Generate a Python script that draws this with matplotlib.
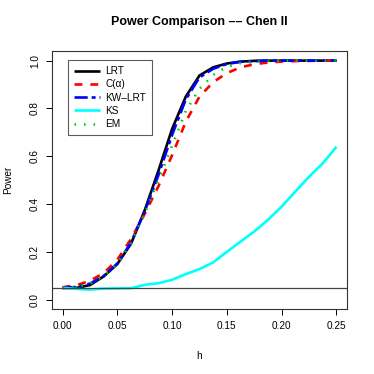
import matplotlib
matplotlib.use("Agg")
import matplotlib.pyplot as plt
import numpy as np

plt.rcParams['font.family'] = ['Liberation Sans', 'DejaVu Sans']

h = [0, 0.0125, 0.025, 0.0375, 0.05, 0.0625, 0.075, 0.0875, 0.1, 0.1125,
     0.125, 0.1375, 0.15, 0.1625, 0.175, 0.1875, 0.2, 0.2125, 0.225, 0.2375, 0.25]

lrt = [0.050, 0.050, 0.062, 0.098, 0.150, 0.235, 0.375, 0.540, 0.715, 0.850,
       0.938, 0.972, 0.988, 0.996, 0.999, 1.0, 1.0, 1.0, 1.0, 1.0, 1.0]
calpha = [0.053, 0.061, 0.080, 0.112, 0.168, 0.255, 0.360, 0.475, 0.605, 0.745,
          0.850, 0.910, 0.948, 0.972, 0.985, 0.992, 0.996, 0.998, 0.999, 1.0, 1.0]
kwlrt = [0.050, 0.054, 0.068, 0.100, 0.152, 0.240, 0.370, 0.522, 0.690, 0.838,
         0.930, 0.966, 0.986, 0.995, 0.998, 1.0, 1.0, 1.0, 1.0, 1.0, 1.0]
ks = [0.050, 0.046, 0.043, 0.047, 0.048, 0.049, 0.063, 0.070, 0.084, 0.108,
      0.129, 0.157, 0.201, 0.244, 0.286, 0.335, 0.390, 0.453, 0.515, 0.571, 0.640]
em = [0.050, 0.054, 0.068, 0.100, 0.152, 0.238, 0.362, 0.500, 0.645, 0.790,
      0.882, 0.940, 0.974, 0.990, 0.995, 0.998, 1.0, 1.0, 1.0, 1.0, 1.0]

labels = ['LRT', 'C(\u03b1)', 'KW\u2013LRT', 'KS', 'EM']
colors = ['black', '#FF0000', '#0000FF', '#00FFFF', '#00CD00']
styles = ['-', (0, (3, 3)), (0, (5, 1.5, 1.5, 1.5)), '-', (0, (0.6, 3))]
series = [lrt, calpha, kwlrt, ks, em]

fig = plt.figure(figsize=(3.74, 3.74), dpi=100)
ax = fig.add_axes([0.138, 0.1725, 0.791, 0.691])

for y, lab, c, ls in zip(series, labels, colors, styles):
    ax.plot(h, y, color=c, linestyle=ls, linewidth=1.9, label=lab,
            dash_capstyle='butt', solid_capstyle='butt')

ax.axhline(0.05, color='#444444', linewidth=0.9)

ax.set_xlim(-0.01, 0.26)
ax.set_ylim(-0.04, 1.04)
ax.set_xticks([0, 0.05, 0.10, 0.15, 0.20, 0.25])
ax.set_xticklabels(['0.00', '0.05', '0.10', '0.15', '0.20', '0.25'])
ax.set_yticks([0, 0.2, 0.4, 0.6, 0.8, 1.0])
ax.set_yticklabels(['0.0', '0.2', '0.4', '0.6', '0.8', '1.0'], rotation=90, va='center')
ax.tick_params(labelsize=7.2, length=4.5, width=0.7, pad=4)
for s in ax.spines.values():
    s.set_linewidth(0.8)
    s.set_color('#333333')

ax.set_xlabel('h', fontsize=7.2, labelpad=14)
ax.set_ylabel('Power', fontsize=7.2, labelpad=12)
ax.set_title('Power Comparison \u2013\u2013 Chen II', fontsize=9, fontweight='bold', pad=19)

leg = ax.legend(loc='upper left', bbox_to_anchor=(0.054, 0.965), fontsize=7.2,
                frameon=True, fancybox=False, edgecolor='#333333', handlelength=2.6,
                handletextpad=0.6, borderpad=0.6, labelspacing=0.33, borderaxespad=0)
leg.get_frame().set_linewidth(0.8)

fig.savefig('out.png', dpi=100)
